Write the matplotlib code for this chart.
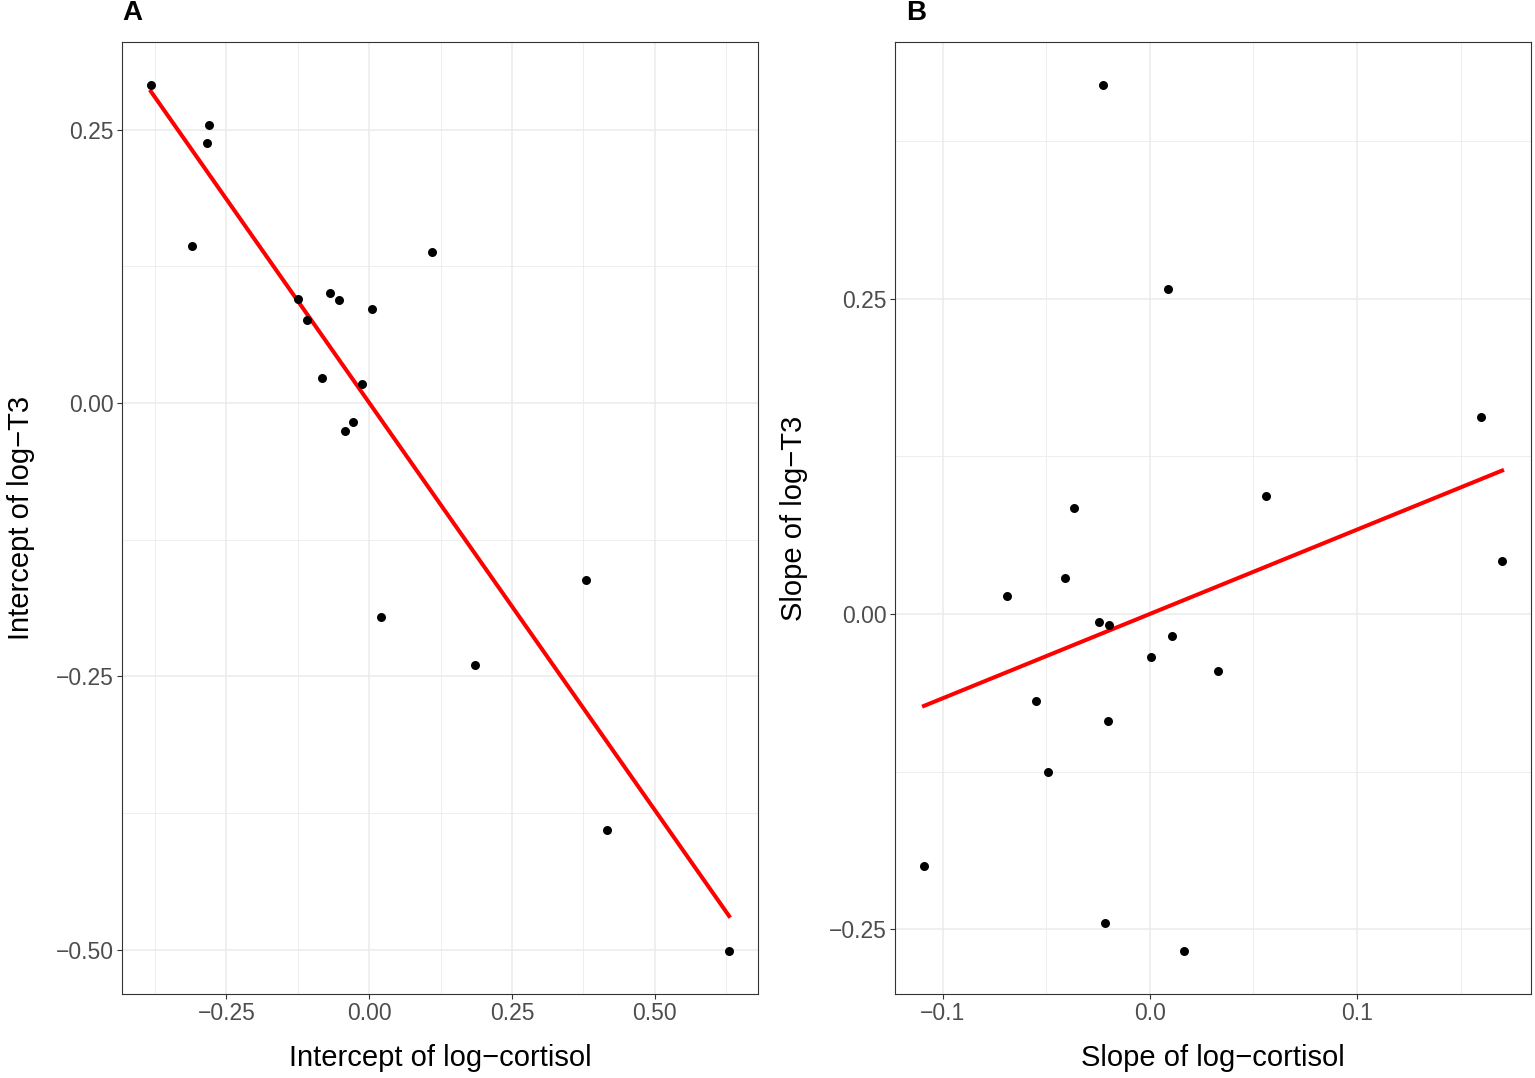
import matplotlib.pyplot as plt, numpy as np
from matplotlib.ticker import FixedLocator, FuncFormatter

plt.rcParams['font.family'] = ['Liberation Sans', 'DejaVu Sans']

# Panel A: random intercepts
int_cortisol = [-0.382, -0.281, -0.284, -0.310, 0.110, -0.124, -0.068, -0.052, -0.108, 0.005,
                -0.082, -0.012, -0.028, -0.042, 0.021, 0.380, 0.185, 0.417, 0.630]
int_t3 = [0.2905, 0.254, 0.2375, 0.1434, 0.138, 0.095, 0.101, 0.094, 0.076, 0.086,
          0.023, 0.0174, -0.017, -0.026, -0.196, -0.162, -0.240, -0.391, -0.501]

# Panel B: random slopes
slope_cortisol = [-0.0224, 0.0089, 0.160, 0.056, 0.170, -0.0364, -0.041, -0.069, -0.0243, -0.0195,
                  0.0108, 0.0007, 0.033, -0.0547, -0.020, -0.049, -0.109, -0.0214, 0.0166]
slope_t3 = [0.419, 0.2575, 0.156, 0.0935, 0.042, 0.084, 0.0285, 0.014, -0.0063, -0.0087,
            -0.0174, -0.034, -0.045, -0.069, -0.085, -0.125, -0.200, -0.245, -0.267]


def expand(v, f=0.05):
    lo, hi = min(v), max(v)
    d = (hi - lo) * f
    return lo - d, hi + d


def fmt(nd):
    # ggplot style labels with a real minus sign
    return FuncFormatter(lambda v, p: ('%.*f' % (nd, v)).replace('-', '\u2212'))


def panel(ax, x, y, xlab, ylab, xmaj, ymaj, xnd, ynd):
    ax.scatter(x, y, s=42, color='black', zorder=3, linewidths=0)
    # linear fit, like geom_smooth(method='lm', se=FALSE)
    b, a = np.polyfit(x, y, 1)
    xx = np.array([min(x), max(x)])
    ax.plot(xx, a + b * xx, color='#FF0000', lw=2.9, zorder=2)
    ax.set_xlim(expand(x))
    ax.set_ylim(expand(y))
    ax.xaxis.set_major_locator(FixedLocator(xmaj))
    ax.yaxis.set_major_locator(FixedLocator(ymaj))
    dx = xmaj[1] - xmaj[0]
    dy = ymaj[1] - ymaj[0]
    ax.xaxis.set_minor_locator(FixedLocator(np.arange(xmaj[0] - 1.5 * dx, xmaj[-1] + 2 * dx, dx)))
    ax.yaxis.set_minor_locator(FixedLocator(np.arange(ymaj[0] - 1.5 * dy, ymaj[-1] + 2 * dy, dy)))
    ax.xaxis.set_major_formatter(fmt(xnd))
    ax.yaxis.set_major_formatter(fmt(ynd))
    ax.grid(True, which='major', color='#EBEBEB', lw=1.1, zorder=0)
    ax.grid(True, which='minor', color='#EBEBEB', lw=0.6, zorder=0)
    ax.set_axisbelow(True)
    ax.tick_params(which='minor', length=0)
    ax.tick_params(which='major', length=3.6, width=0.8, color='#333333',
                   labelsize=16.5, labelcolor='#4D4D4D', pad=2.5)
    for s in ax.spines.values():
        s.set_color('#333333')
        s.set_linewidth(0.8)
    ax.set_xlabel(xlab, fontsize=21, labelpad=13)
    ax.set_ylabel(ylab, fontsize=21, labelpad=15)


fig = plt.figure(figsize=(15.35, 10.78), dpi=100)
axA = fig.add_axes([0.0795, 0.0779, 0.4143, 0.8831])
axB = fig.add_axes([0.5831, 0.0779, 0.4143, 0.8831])

panel(axA, int_cortisol, int_t3, 'Intercept of log\u2212cortisol', 'Intercept of log\u2212T3',
      [-0.25, 0.0, 0.25, 0.5], [-0.5, -0.25, 0.0, 0.25], 2, 2)
panel(axB, slope_cortisol, slope_t3, 'Slope of log\u2212cortisol', 'Slope of log\u2212T3',
      [-0.1, 0.0, 0.1], [-0.25, 0.0, 0.25], 1, 2)

# panel tags
fig.text(0.0795, 0.9875, 'A', fontsize=20, fontweight='bold', ha='left', va='center')
fig.text(0.5905, 0.9875, 'B', fontsize=20, fontweight='bold', ha='left', va='center')

fig.savefig('out.png', dpi=100)
